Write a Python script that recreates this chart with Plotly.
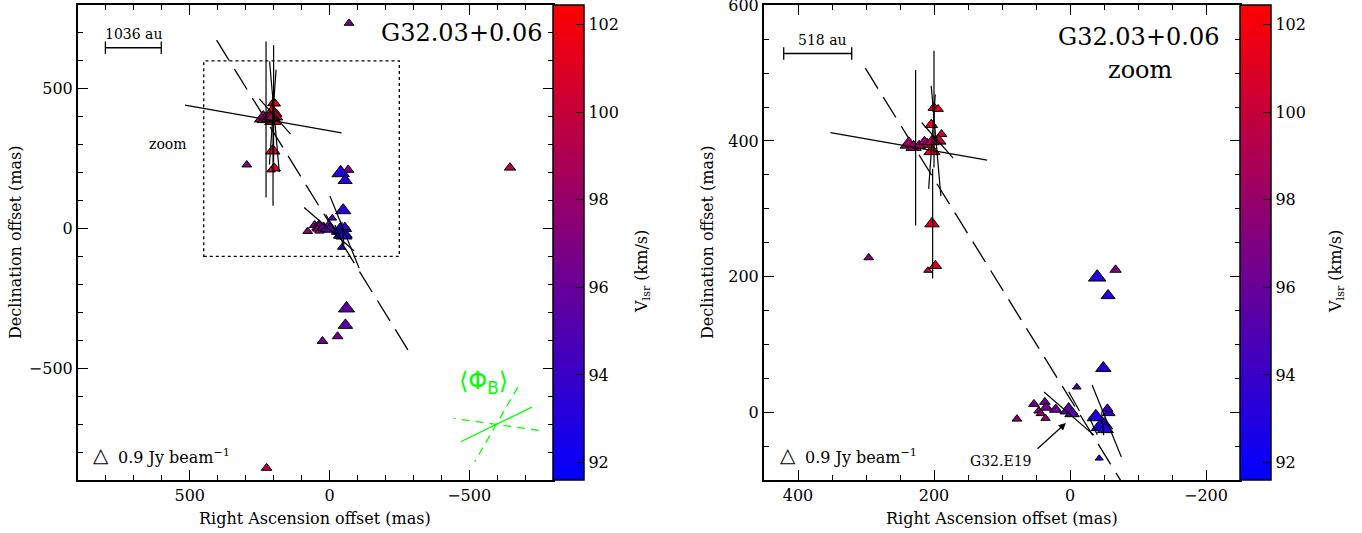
import math
import plotly.graph_objects as go

W, H = 1362, 533
FONT = "DejaVu Serif"

# ---------------- data: water maser spots ----------------
RA = [200, 194, 204, 189, 203, 210, 193, 237, 230, 222, 214, 203, 203, 198, 209, 296, -67, -40, -56, -49, -10, -43,
      78, 53, 37, 35, 46, 43, 36, 21, 2, -3, -38, -50, -57, -43, -52, -55,
      -70, -646, -61, -57, -29, 25, 225]
DEC = [449, 447, 424, 410, 385, 395, 400, 395, 391, 393, 399, 399, 278, 216, 209, 228, 210, 199, 172, 65, 37, -68,
       -10, 12, 15, 7, 2, -2, -9, 4, 3, -2, -7, -19, -1, -22, -25, 5,
       735, 218, -286, -346, -386, -403, -857]
VLSR = [101.8, 101.5, 101.6, 100.8, 101.2, 100.5, 100.2, 98.3, 98.0, 98.5, 97.8, 99.0, 101.0, 100.8, 100.5, 97.0, 97.0, 93.0, 93.0, 93.0, 95.0, 92.5,
        97.5, 96.5, 96.2, 96.5, 97.0, 97.5, 98.0, 96.0, 95.5, 95.3, 92.8, 93.2, 93.5, 92.8, 93.0, 94.0,
        96.5, 99.5, 95.5, 95.5, 96.5, 96.2, 99.5]
FLUX = [0.25, 0.15, 0.3, 0.15, 0.7, 0.4, 0.5, 0.9, 0.6, 0.3, 0.3, 0.5, 0.5, 0.3, 0.04, 0.1, 0.2, 0.9, 0.45, 0.6, 0.05, 0.03,
        0.1, 0.15, 0.15, 0.3, 0.1, 0.08, 0.08, 0.3, 0.9, 0.5, 0.9, 0.9, 0.3, 0.7, 0.7, 0.2,
        0.1, 0.2, 0.7, 0.5, 0.15, 0.15, 0.15]

# ---------------- data: polarization vectors ----------------
VEC_RA = [227, 200, 202, 237, 197, 195, 203, 1.5, -6, -54, -34, -48]
VEC_DEC = [390, 447, 278, 392, 400, 401, 399, -2, 16, -13, -20, -17]
VEC_PA = [0, 0, 0, 80, 5, 41.5, -4, 49, 29, 22, 24, 5]          # deg, east of north
VEC_PL = [7.8, 5.85, 5.5, 7.95, 5.55, 2.35, 4.75, 3.3, 1.1, 3.9, 1.0, 1.15]  # %

# outflow / axis direction (dashed)
AXIS_PA = 31.7
AXIS_REF = (0, 20)
AXIS_RA_FULL = [404, -296]
AXIS_RA_ZOOM = [301, -75]

# mean magnetic field orientation
PHI_B = -64
PHI_B_ERR = 34

# distance and scale bars
DIST_KPC = 5.18
BAR_MAS = [200, 100]

# colour scale
VMIN, VMAX = 91.6, 102.45
CB_TICKS = [92, 94, 96, 98, 100, 102]

# axes ranges
FULL_RA = [900, -800]
FULL_DEC = [-900, 800]
ZOOM_RA = [450, -250]
ZOOM_DEC = [-100, 600.5]

# ---------------- layout geometry (pixels) ----------------
LX = (78, 553)
RX = (764, 1240)
PY = (5, 480)
px2x = lambda p: p / W
py2y = lambda p: 1 - p / H
scale_full = (LX[1] - LX[0]) / (FULL_RA[0] - FULL_RA[1])   # px per mas
scale_zoom = (RX[1] - RX[0]) / (ZOOM_RA[0] - ZOOM_RA[1])
PX_PER_PCT = 20.0

def size_of(f):
    return (6 + 11.5 * math.sqrt(f / 0.9)) / 1.155

sizes = [size_of(f) for f in FLUX]

def vectors(scale):
    xs, ys = [], []
    for ra, de, pa, pl in zip(VEC_RA, VEC_DEC, VEC_PA, VEC_PL):
        half = PX_PER_PCT * pl / 2 / scale
        dx = half * math.sin(math.radians(pa))
        dy = half * math.cos(math.radians(pa))
        xs += [ra + dx, ra - dx, None]
        ys += [de + dy, de - dy, None]
    return xs, ys

def axis_line(ra_ext):
    slope = 1 / math.tan(math.radians(AXIS_PA))
    ys = [AXIS_REF[1] + slope * (r - AXIS_REF[0]) for r in ra_ext]
    return ra_ext, ys

fig = go.Figure()

for xa, ya, cax, scale, ext in [("x", "y", "coloraxis", scale_full, AXIS_RA_FULL),
                                ("x2", "y2", "coloraxis2", scale_zoom, AXIS_RA_ZOOM)]:
    ax_x, ax_y = axis_line(ext)
    fig.add_trace(go.Scatter(x=ax_x, y=ax_y, mode="lines", xaxis=xa, yaxis=ya,
                             line=dict(color="black", width=1.3, dash="24px,10px"), showlegend=False))
    fig.add_trace(go.Scatter(x=RA, y=DEC, mode="markers", xaxis=xa, yaxis=ya, showlegend=False,
                             marker=dict(symbol="triangle-up", size=sizes, color=VLSR, coloraxis=cax,
                                         opacity=1, line=dict(color="black", width=1))))
    vx, vy = vectors(scale)
    fig.add_trace(go.Scatter(x=vx, y=vy, mode="lines", xaxis=xa, yaxis=ya,
                             line=dict(color="black", width=1.2), showlegend=False))

# scale bars
BAR_POS = [("x", "y", 802, 647, scale_full), ("x2", "y2", 421, 529, scale_zoom)]
for (xa, ya, x0, y0, sc), L in zip(BAR_POS, BAR_MAS):
    fig.add_trace(go.Scatter(x=[x0, x0 - L], y=[y0, y0], mode="lines+markers", xaxis=xa, yaxis=ya,
                             line=dict(color="black", width=1.3),
                             marker=dict(symbol="line-ns-open", size=9, line=dict(color="black", width=1.3)),
                             showlegend=False))

# mean B-field symbol (left panel)
BC = (-597, -701)
for ang, ln, dash in [(PHI_B, 79, "solid"), (PHI_B + PHI_B_ERR, 86, "8px,6px"), (PHI_B - PHI_B_ERR, 86, "8px,6px")]:
    half = ln / 2 / scale_full
    dx = half * math.sin(math.radians(ang))
    dy = half * math.cos(math.radians(ang))
    fig.add_trace(go.Scatter(x=[BC[0] + dx, BC[0] - dx], y=[BC[1] + dy, BC[1] - dy], mode="lines",
                             xaxis="x", yaxis="y", line=dict(color="#00ff00", width=1.3, dash=dash),
                             showlegend=False))

def axis(rng, dom, dtick, minor):
    return dict(range=rng, domain=dom, dtick=dtick, tick0=0, ticks="inside", ticklen=10, tickwidth=1.3,
                tickcolor="black", automargin=False, ticklabeloverflow="allow",
                minor=dict(dtick=minor, tick0=0, ticks="inside", ticklen=5, tickwidth=1.3, tickcolor="black"),
                showline=True, linecolor="black", linewidth=2, mirror="allticks", showgrid=False,
                zeroline=False, tickfont=dict(family=FONT, size=16, color="black"))

ydom = [py2y(PY[1]), py2y(PY[0])]
cb_common = dict(y=(ydom[0] + ydom[1]) / 2, yanchor="middle", len=ydom[1] - ydom[0], lenmode="fraction",
                 thickness=31, thicknessmode="pixels", xanchor="left", xpad=0, ypad=0,
                 outlinewidth=1.5, outlinecolor="black", ticks="inside", ticklen=8, tickcolor="black",
                 tickvals=CB_TICKS, tickfont=dict(family=FONT, size=16, color="black"))
cscale = [[0, "rgb(0,0,255)"], [1, "rgb(255,0,0)"]]

fig.update_layout(
    width=W, height=H, margin=dict(l=0, r=0, t=0, b=0, autoexpand=False),
    paper_bgcolor="white", plot_bgcolor="white",
    xaxis=axis(FULL_RA, [px2x(LX[0]), px2x(LX[1])], 500, 100),
    yaxis=axis(FULL_DEC, ydom, 500, 100),
    xaxis2=axis(ZOOM_RA, [px2x(RX[0]), px2x(RX[1])], 200, 50),
    yaxis2=axis(ZOOM_DEC, ydom, 200, 50),
    coloraxis=dict(colorscale=cscale, cmin=VMIN, cmax=VMAX, colorbar=dict(x=px2x(LX[1]), **cb_common)),
    coloraxis2=dict(colorscale=cscale, cmin=VMIN, cmax=VMAX, colorbar=dict(x=px2x(RX[1]), **cb_common)),
)
fig.update_layout(yaxis2=dict(anchor="x2"), xaxis2=dict(anchor="y2"))

# zoom region box on the left panel
fig.add_shape(type="rect", xref="x", yref="y", x0=ZOOM_RA[0], x1=ZOOM_RA[1], y0=ZOOM_DEC[0], y1=600,
              line=dict(color="black", width=1.3, dash="dot"))

ann = []
def txt(text, x, y, size, xanchor="center", angle=0, color="black", family=FONT):
    ann.append(dict(text=text, x=px2x(x), y=py2y(y), xref="paper", yref="paper", showarrow=False,
                    xanchor=xanchor, yanchor="middle", textangle=angle,
                    font=dict(family=family, size=size, color=color)))

txt("G32.03+0.06", 461, 33, 24)
txt("G32.03+0.06", 1138, 37, 24)
txt("zoom", 1140, 70, 24)
txt("zoom", 168, 144, 14)
txt(f"{BAR_MAS[0] * DIST_KPC:.0f} au", 133, 34, 14)
txt(f"{BAR_MAS[1] * DIST_KPC:.0f} au", 822, 40, 14)
for cx, tx in [(101, 116), (788, 803)]:
    txt("△", cx, 455, 20, family="DejaVu Sans")
    txt("0.9 Jy beam<sup>−1</sup>", tx, 456, 16, xanchor="left")
txt("Right Ascension offset (mas)", 315, 518, 16)
txt("Right Ascension offset (mas)", 1002, 518, 16)
txt("Declination offset (mas)", 16, 242, 16, angle=-90)
txt("Declination offset (mas)", 708, 242, 16, angle=-90)
txt("V<sub>lsr</sub> (km/s)", 642, 272, 16, angle=-90)
txt("V<sub>lsr</sub> (km/s)", 1336, 272, 16, angle=-90)
txt("G32.E19", 1000, 461, 14)
txt("⟨Φ<sub>B</sub>⟩", 483, 382, 24, color="#00ff00", family="DejaVu Sans")

ann.append(dict(x=6, y=-16, ax=50, ay=-56, xref="x2", yref="y2", axref="x2", ayref="y2", text="",
                showarrow=True, arrowhead=2, arrowsize=1.2, arrowwidth=1.2, arrowcolor="black"))
fig.update_layout(annotations=ann)

fig.write_html("out.html", config={"displayModeBar": False},
               post_script="document.body.style.margin='0';")
